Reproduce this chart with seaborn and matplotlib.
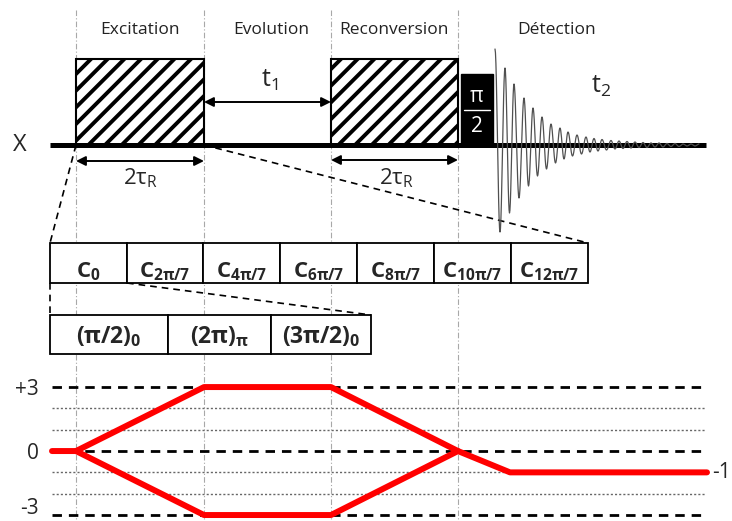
import numpy as np
import pandas as pd
import matplotlib
matplotlib.use("Agg")
import matplotlib.pyplot as plt
from matplotlib.patches import Rectangle
from matplotlib.transforms import ScaledTranslation
import seaborn as sns

sns.set_theme(style="white")
plt.rcParams["font.family"] = ["Open Sans", "DejaVu Sans"]
plt.rcParams["mathtext.fontset"] = "custom"
plt.rcParams["mathtext.rm"] = "Open Sans"
plt.rcParams["mathtext.bf"] = "Open Sans:bold"
plt.rcParams["mathtext.it"] = "Open Sans:italic"
plt.rcParams["hatch.linewidth"] = 2.8

# -----------------------------
# Data (pixel-like time axis shared by all panels)
# -----------------------------
period_edges = [76, 204, 331, 458]
section_names = ["Excitation", "Evolution", "Reconversion", "Détection"]
section_x = [140, 271, 394, 557]

c_edges = [50, 127, 203, 280, 357, 434, 511, 588]
c_labels = [r"$\mathbf{C_{0}}$", r"$\mathbf{C_{2\pi/7}}$", r"$\mathbf{C_{4\pi/7}}$",
            r"$\mathbf{C_{6\pi/7}}$", r"$\mathbf{C_{8\pi/7}}$", r"$\mathbf{C_{10\pi/7}}$",
            r"$\mathbf{C_{12\pi/7}}$"]
sub_edges = [50, 168, 271, 371]
sub_labels = [r"$\mathbf{(\pi/2)_{0}}$", r"$\mathbf{(2\pi)_{\pi}}$", r"$\mathbf{(3\pi/2)_{0}}$"]

# coherence pathways
path_up_x = [52, 76, 204, 331, 458, 510, 707]
path_up_p = [0, 0, 3, 3, 0, -1, -1]
path_lo_x = [76, 204, 331, 458]
path_lo_p = [0, -3, -3, 0]
levels_dashed = [3, 0, -3]
levels_dotted = [2, 1, -1, -2]
level_labels = ["+3", "0", "-3"]

# FID: peak positions and successive half-cycle amplitudes (px)
fid_peak_x = [495, 505, 514, 524, 533, 542, 551, 560, 568, 577, 586, 594, 602,
              611, 619, 627, 635, 643, 651, 659, 667, 675, 683, 691, 699]
fid_amp = [96, 87, 77, 68, 61, 53, 47, 41, 37, 31, 28, 24, 21, 18, 17, 14, 13, 11,
           10, 9, 8, 7, 6.5, 6, 5.5, 5, 4.5, 4, 4, 3.5, 3.5, 3, 3, 2.5, 2.5, 2.5,
           2, 2, 2, 2, 1.5, 1.5, 1.5, 1.5, 1, 1, 1, 1, 1]

# -----------------------------
# Figure
# -----------------------------
fig = plt.figure(figsize=(7.32, 5.21), dpi=100)
ax = fig.add_axes([0, 0, 1, 1])
ax.set_xlim(0, 732)
ax.set_ylim(521, 0)
ax.axis("off")

base_y = 145

# vertical guides
for x in period_edges:
    ax.plot([x, x], [10, 521], color="#a8a8a8", lw=0.8, ls=(0, (5, 2, 1, 2)), zorder=0)

# section titles
for name, x in zip(section_names, section_x):
    ax.text(x, 30, name, ha="center", va="center", fontsize=12.5, color="#222222")

# baseline
ax.plot([50, 706], [base_y, base_y], color="black", lw=3.6, solid_capstyle="butt", zorder=3)
ax.text(20, base_y, "X", ha="center", va="center", fontsize=17)

# hatched blocks
for x0, x1 in [(period_edges[0], period_edges[1]), (period_edges[2], period_edges[3])]:
    ax.add_patch(Rectangle((x0, 59), x1 - x0, base_y - 59, facecolor="white",
                           edgecolor="black", hatch="//", lw=1.5, zorder=2))

# pi/2 pulse
ax.add_patch(Rectangle((461, 74), 32, base_y - 74, facecolor="black", edgecolor="black", zorder=2))
ax.text(477, 96, "π", color="white", ha="center", va="center", fontsize=15, zorder=4)
ax.plot([464, 490], [110, 110], color="white", lw=1, zorder=4)
ax.text(477, 127, "2", color="white", ha="center", va="center", fontsize=15, zorder=4)

# FID
ext_x = []
for i, px in enumerate(fid_peak_x):
    ext_x.append(px)
    if i < len(fid_peak_x) - 1:
        ext_x.append((px + fid_peak_x[i + 1]) / 2)
ext_y = [base_y - a if i % 2 == 0 else base_y + a for i, a in enumerate(fid_amp)]
xs, ys = [], []
t = np.linspace(0, np.pi, 12)
for i in range(len(ext_x) - 1):
    mid = (ext_y[i] + ext_y[i + 1]) / 2
    half = (ext_y[i] - ext_y[i + 1]) / 2
    xs.extend(ext_x[i] + (ext_x[i + 1] - ext_x[i]) * t / np.pi)
    ys.extend(mid + half * np.cos(t))
ax.plot(xs, ys, color="#505050", lw=0.9, zorder=4)

# arrows and time labels
arrow = dict(arrowstyle="<|-|>", color="black", lw=1.4, mutation_scale=14, shrinkA=0, shrinkB=0)
ax.annotate("", xy=(period_edges[1], 102), xytext=(period_edges[2], 102), arrowprops=arrow)
ax.text(270, 80, r"t$_1$", ha="center", va="center", fontsize=18)
ax.text(601, 86, r"t$_2$", ha="center", va="center", fontsize=18)
ax.annotate("", xy=(period_edges[0], 161), xytext=(period_edges[1], 161), arrowprops=arrow)
ax.annotate("", xy=(period_edges[2], 160), xytext=(period_edges[3], 160), arrowprops=arrow)
ax.text(140, 178, r"2τ$_\mathrm{R}$", ha="center", va="center", fontsize=16)
ax.text(396, 178, r"2τ$_\mathrm{R}$", ha="center", va="center", fontsize=16)

# zoom (expansion) dashed lines
zoom_ls = dict(color="black", lw=1.2, ls=(0, (4, 3)), zorder=1)
ax.plot([period_edges[0], c_edges[0]], [base_y, 243], **zoom_ls)
ax.plot([period_edges[1], c_edges[-1]], [base_y, 243], **zoom_ls)
ax.plot([c_edges[0], sub_edges[0]], [283, 315], **zoom_ls)
ax.plot([c_edges[1], sub_edges[-1]], [283, 315], **zoom_ls)

# C-element row
for i, lab in enumerate(c_labels):
    x0, x1 = c_edges[i], c_edges[i + 1]
    ax.add_patch(Rectangle((x0, 243), x1 - x0, 40, facecolor="white", edgecolor="black", lw=1.3, zorder=2))
    ax.text((x0 + x1) / 2, 277, lab, ha="center", va="baseline", fontsize=16, zorder=3)

# sub-element row
for i, lab in enumerate(sub_labels):
    x0, x1 = sub_edges[i], sub_edges[i + 1]
    ax.add_patch(Rectangle((x0, 315), x1 - x0, 39, facecolor="white", edgecolor="black", lw=1.3, zorder=2))
    ax.text((x0 + x1) / 2, 343, lab, ha="center", va="baseline", fontsize=16.5, zorder=3)

# -----------------------------
# Coherence transfer pathway
# -----------------------------
ax2 = fig.add_axes([44 / 732, 0, 1 - 44 / 732, 151 / 521])
ax2.set_facecolor("none")
ax2.set_xlim(44, 732)
ax2.set_ylim(-3.28, 3.8)
for p in levels_dashed:
    ax2.plot([52, 702], [p, p], color="black", lw=2, ls=(0, (3.4, 2.5)), zorder=1)
for p in levels_dotted:
    ax2.plot([52, 705], [p, p], color="#666666", lw=1, ls=(0, (1.5, 1.5)), zorder=1)

paths = pd.DataFrame({
    "x": path_up_x + path_lo_x,
    "p": path_up_p + path_lo_p,
    "path": ["up"] * len(path_up_x) + ["lo"] * len(path_lo_x),
})
sns.lineplot(data=paths, x="x", y="p", units="path", estimator=None, sort=False,
             color="#ff0000", lw=4.3, solid_joinstyle="round", ax=ax2, legend=False, zorder=3)
ax2.set_yticks(levels_dashed)
ax2.set_yticklabels(level_labels)
ax2.set_xticks([])
ax2.tick_params(axis="y", length=0, pad=4, labelsize=15)
ax2.set_xlabel("")
ax2.set_ylabel("")
sns.despine(ax=ax2, left=True, bottom=True)
# keep the lowest label inside the canvas
low = ax2.get_yticklabels()[-1]
low.set_transform(low.get_transform() + ScaledTranslation(0, 9 / 100, fig.dpi_scale_trans))
ax2.text(712, -1, "-1", ha="left", va="center", fontsize=15, clip_on=False)

fig.savefig("out.png", dpi=100)
